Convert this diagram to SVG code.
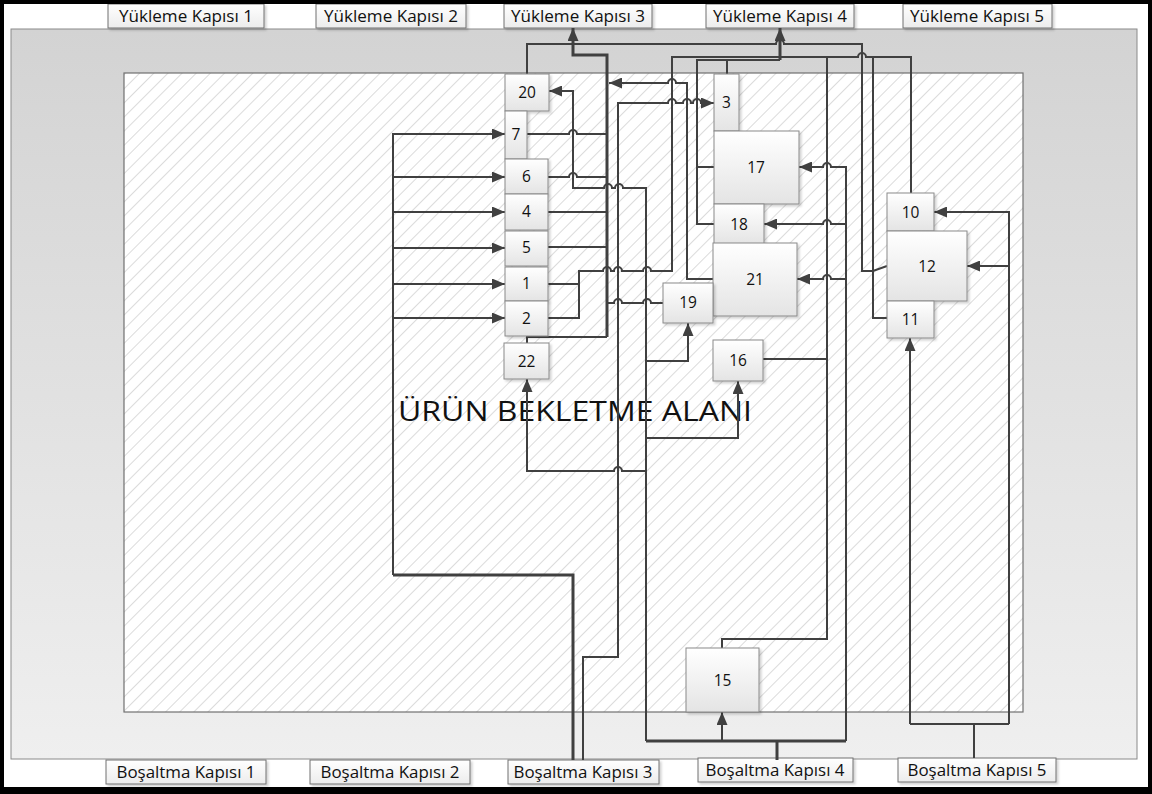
<svg xmlns="http://www.w3.org/2000/svg" width="1152" height="794" viewBox="0 0 1152 794">
<defs>
<linearGradient id="band" x1="0" y1="0" x2="0" y2="1"><stop offset="0" stop-color="#d3d3d3"/><stop offset="1" stop-color="#efefef"/></linearGradient>
<linearGradient id="nodeg" x1="0" y1="0" x2="0" y2="1"><stop offset="0" stop-color="#ffffff"/><stop offset="1" stop-color="#e4e4e4"/></linearGradient>
<linearGradient id="labg" x1="0" y1="0" x2="0" y2="1"><stop offset="0" stop-color="#ffffff"/><stop offset="1" stop-color="#ececec"/></linearGradient>
<pattern id="hatch" patternUnits="userSpaceOnUse" width="10" height="10" patternTransform="rotate(45)"><rect width="10" height="10" fill="#ffffff"/><line x1="0" y1="0" x2="0" y2="10" stroke="#c4c4c4" stroke-width="1.2"/></pattern>
<marker id="ah" viewBox="0 0 13 11" markerWidth="13" markerHeight="11" refX="13" refY="5.5" orient="auto" markerUnits="userSpaceOnUse"><path d="M0,0 L13,5.5 L0,11 z" fill="#404040"/></marker>
<filter id="sh" x="-10%" y="-10%" width="130%" height="130%"><feDropShadow dx="2" dy="2" stdDeviation="1.2" flood-color="#000" flood-opacity="0.18"/></filter>
</defs>
<style>
.c{fill:none;stroke:#404040;stroke-width:2}
.t{stroke-width:3}
.a{marker-end:url(#ah)}
.n rect{fill:url(#nodeg);stroke:#8a8a8a;stroke-width:1;filter:url(#sh)}
.n text{font-family:"Open Sans","Noto Sans",sans-serif;font-size:15.5px;fill:#111;text-anchor:middle}
.l rect{fill:url(#labg);stroke:#707070;stroke-width:1;filter:url(#sh)}
.l text{font-family:"Open Sans","Noto Sans",sans-serif;font-size:16px;fill:#111;text-anchor:middle}
</style>
<rect x="0" y="0" width="1152" height="794" fill="#ffffff"/>
<g id="zones">
<rect x="11" y="29" width="1126" height="730" fill="url(#band)" stroke="#8a8a8a" stroke-width="1"/>
<rect x="124" y="73" width="899" height="639" fill="url(#hatch)" stroke="#707070" stroke-width="1.2"/>
<text x="398" y="421" font-family="Open Sans, Noto Sans, sans-serif" font-size="27" textLength="354" lengthAdjust="spacingAndGlyphs" fill="#111">ÜRÜN BEKLETME ALANI</text>
</g>
<g id="labels">
<g id="yk1" class="l"><rect x="108" y="4" width="156" height="24"/><text x="186" y="21.5" textLength="134" lengthAdjust="spacingAndGlyphs">Yükleme Kapısı 1</text></g>
<g id="yk2" class="l"><rect x="316" y="4" width="150" height="24"/><text x="391" y="21.5" textLength="134" lengthAdjust="spacingAndGlyphs">Yükleme Kapısı 2</text></g>
<g id="yk3" class="l"><rect x="504" y="4" width="148" height="24"/><text x="578" y="21.5" textLength="134" lengthAdjust="spacingAndGlyphs">Yükleme Kapısı 3</text></g>
<g id="yk4" class="l"><rect x="706" y="4" width="148" height="24"/><text x="780" y="21.5" textLength="134" lengthAdjust="spacingAndGlyphs">Yükleme Kapısı 4</text></g>
<g id="yk5" class="l"><rect x="903" y="4" width="149" height="24"/><text x="977" y="21.5" textLength="134" lengthAdjust="spacingAndGlyphs">Yükleme Kapısı 5</text></g>
<g id="bk1" class="l"><rect x="106" y="760" width="160" height="24"/><text x="186" y="777.5" textLength="139" lengthAdjust="spacingAndGlyphs">Boşaltma Kapısı 1</text></g>
<g id="bk2" class="l"><rect x="310" y="760" width="160" height="24"/><text x="390" y="777.5" textLength="139" lengthAdjust="spacingAndGlyphs">Boşaltma Kapısı 2</text></g>
<g id="bk3" class="l"><rect x="508" y="760" width="151" height="24"/><text x="583" y="777.5" textLength="139" lengthAdjust="spacingAndGlyphs">Boşaltma Kapısı 3</text></g>
<g id="bk4" class="l"><rect x="698" y="758" width="155" height="24"/><text x="775" y="775.5" textLength="139" lengthAdjust="spacingAndGlyphs">Boşaltma Kapısı 4</text></g>
<g id="bk5" class="l"><rect x="898" y="758" width="158" height="24"/><text x="977" y="775.5" textLength="139" lengthAdjust="spacingAndGlyphs">Boşaltma Kapısı 5</text></g>
</g>
<g id="connectors">
<path class="c t" d="M573,760 V575 H393"/>
<path class="c a" d="M393,575 V134 H505"/>
<path class="c a" d="M393,177 H505"/>
<path class="c a" d="M393,212 H505"/>
<path class="c a" d="M393,248 H505"/>
<path class="c a" d="M393,284 H505"/>
<path class="c a" d="M393,318 H505"/>
<path class="c a" d="M583,760 V657 H618 V103 H668 A4,4 0 0 1 676,103 H683 A4,4 0 0 1 691,103 H693 A4,4 0 0 1 701,103 H714"/>
<path class="c t a" d="M607,337 V55 H573 V28"/>
<path class="c" d="M527,343 V337 H607"/>
<path class="c" d="M527,134 H569 A4,4 0 0 1 577,134 H607"/>
<path class="c" d="M548,177 H569 A4,4 0 0 1 577,177 H607"/>
<path class="c" d="M548,212 H607"/>
<path class="c" d="M548,247 H607"/>
<path class="c" d="M663,303 H651 A4,4 0 0 0 643,303 H622 A4,4 0 0 0 614,303 H607"/>
<path class="c a" d="M713,279 H687 V83 H676 A4,4 0 0 0 668,83 H609"/>
<path class="c t" d="M777,760 V741"/>
<path class="c t" d="M646,741 H846"/>
<path class="c a" d="M722,741 V712"/>
<path class="c a" d="M646,741 V188 H623 A4,4 0 0 0 615,188 H612 A4,4 0 0 0 604,188 H573 V91 H549"/>
<path class="c a" d="M646,361 H688 V323"/>
<path class="c a" d="M646,438 H738 V381"/>
<path class="c a" d="M646,471 H622 A4,4 0 0 0 614,471 H527 V379"/>
<path class="c a" d="M846,741 V167 H831 A4,4 0 0 0 823,167 H799"/>
<path class="c a" d="M846,224 H831 A4,4 0 0 0 823,224 H764"/>
<path class="c a" d="M846,279 H831 A4,4 0 0 0 823,279 H797"/>
<path class="c" d="M548,284 H579"/>
<path class="c" d="M548,318 H579 V271 H603 A4,4 0 0 1 611,271 H614 A4,4 0 0 1 622,271 H643 A4,4 0 0 1 651,271 H672 V57 H780"/>
<path class="c" d="M714,167 H697"/>
<path class="c" d="M714,224 H697 V60 H780"/>
<path class="c" d="M727,74 V60"/>
<path class="c t a" d="M780,60 V28"/>
<path class="c" d="M780,57 H858 A4,4 0 0 1 866,57 H911 V193"/>
<path class="c" d="M827,57 V639 H722 V648"/>
<path class="c" d="M763,359 H827"/>
<path class="c" d="M873,57 V318 H887"/>
<path class="c" d="M527,74 V44 H776 A4,4 0 0 1 784,44 H862 V271 H873 L887,266"/>
<path class="c" d="M974,758 V724"/>
<path class="c" d="M910,724 H1009"/>
<path class="c a" d="M910,724 V338"/>
<path class="c a" d="M1009,724 V212 H934"/>
<path class="c a" d="M1009,266 H967"/>
</g>
<g id="nodes">
<g id="n20" class="n"><rect x="505" y="74" width="44" height="37"/><text x="527" y="98">20</text></g>
<g id="n7" class="n"><rect x="505" y="111" width="22" height="48"/><text x="516" y="140">7</text></g>
<g id="n6" class="n"><rect x="505" y="159" width="43" height="35"/><text x="526.5" y="182">6</text></g>
<g id="n4" class="n"><rect x="505" y="194" width="43" height="36"/><text x="526.5" y="217">4</text></g>
<g id="n5" class="n"><rect x="505" y="231" width="43" height="35"/><text x="526.5" y="253">5</text></g>
<g id="n1" class="n"><rect x="505" y="267" width="43" height="34"/><text x="526.5" y="289">1</text></g>
<g id="n2" class="n"><rect x="505" y="301" width="43" height="35"/><text x="526.5" y="324">2</text></g>
<g id="n22" class="n"><rect x="504" y="343" width="45" height="36"/><text x="526.5" y="367">22</text></g>
<g id="n3" class="n"><rect x="714" y="74" width="25" height="57"/><text x="726.5" y="108">3</text></g>
<g id="n17" class="n"><rect x="714" y="131" width="85" height="73"/><text x="756" y="173">17</text></g>
<g id="n18" class="n"><rect x="714" y="204" width="50" height="40"/><text x="739" y="230">18</text></g>
<g id="n21" class="n"><rect x="713" y="243" width="84" height="73"/><text x="755" y="285">21</text></g>
<g id="n19" class="n"><rect x="663" y="283" width="50" height="40"/><text x="688" y="308">19</text></g>
<g id="n16" class="n"><rect x="713" y="340" width="50" height="41"/><text x="738" y="366">16</text></g>
<g id="n10" class="n"><rect x="887" y="193" width="47" height="38"/><text x="910.5" y="218">10</text></g>
<g id="n12" class="n"><rect x="887" y="231" width="80" height="70"/><text x="927" y="272">12</text></g>
<g id="n11" class="n"><rect x="887" y="301" width="47" height="37"/><text x="910.5" y="325">11</text></g>
<g id="n15" class="n"><rect x="686" y="648" width="73" height="64"/><text x="722.5" y="686">15</text></g>
</g>
<path d="M2,2 H1150 V789 H2 Z" fill="none" stroke="#000" stroke-width="4"/>
<rect x="0" y="787" width="1152" height="7" fill="#000"/>
</svg>
